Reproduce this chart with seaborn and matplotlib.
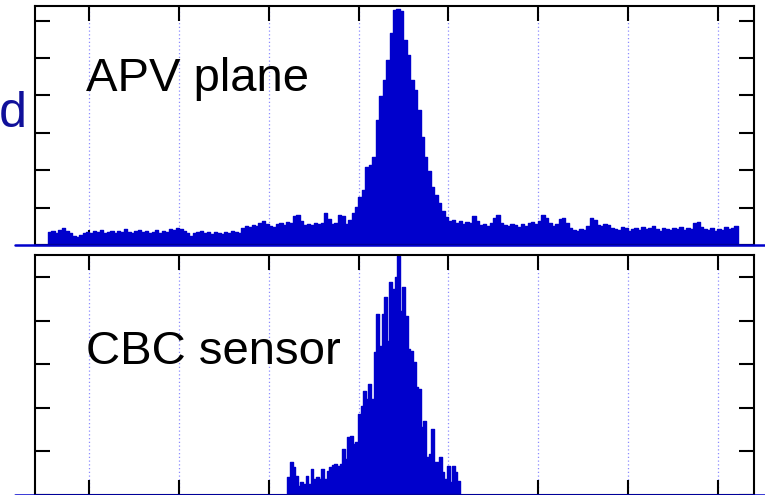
#%% modules
import numpy as np
import pandas as pd
import matplotlib
matplotlib.use("Agg")
import matplotlib.pyplot as plt
import seaborn as sns

#%% data (bin heights, arbitrary count units)
x_ticks = [0, 1, 2, 3, 4, 5, 6, 7]
x_range = (-0.601, 7.401)

apv_range = (-0.456, 7.222)
apv_counts = [
    13, 14, 12, 15, 17, 14, 12, 9, 8, 10,
    12, 13, 12, 14, 13, 15, 12, 13, 14, 12,
    14, 13, 16, 13, 12, 14, 15, 13, 14, 12,
    13, 15, 12, 14, 13, 16, 15, 17, 16, 14,
    12, 9, 12, 13, 14, 12, 13, 11, 13, 12,
    11, 13, 12, 14, 13, 12, 17, 19, 18, 20,
    19, 22, 24, 21, 19, 18, 21, 22, 20, 23,
    22, 29, 30, 24, 20, 21, 20, 22, 21, 22,
    32, 26, 21, 22, 30, 29, 21, 25, 32, 38,
    48, 55, 78, 80, 88, 125, 149, 165, 185, 212,
    235, 236, 234, 205, 190, 165, 155, 135, 108, 88,
    74, 58, 50, 42, 34, 28, 24, 25, 22, 24,
    21, 23, 22, 29, 24, 20, 21, 19, 22, 27,
    30, 22, 20, 19, 21, 20, 18, 21, 19, 22,
    23, 21, 24, 30, 27, 22, 19, 21, 26, 27,
    22, 17, 15, 14, 16, 15, 19, 27, 25, 20,
    19, 21, 20, 17, 16, 15, 18, 17, 14, 16,
    17, 15, 18, 16, 17, 19, 16, 14, 17, 16,
    15, 17, 16, 18, 15, 17, 16, 22, 23, 18,
    16, 15, 17, 14, 16, 15, 18, 16, 17, 19,
]
apv_ymax = 239
apv_ytick_step = 37.4

cbc_range = (2.207, 4.129)
cbc_counts = [
    18, 33, 28, 19, 9, 13, 11, 19, 11, 26,
    16, 18, 16, 26, 16, 24, 28, 30, 31, 29,
    31, 46, 36, 58, 59, 51, 53, 81, 89, 104,
    96, 111, 96, 143, 181, 149, 181, 198, 154, 213,
    206, 218, 239, 184, 208, 179, 146, 144, 133, 108,
    106, 68, 74, 38, 41, 66, 33, 33, 38, 23,
    16, 29, 13, 29, 23, 14,
]
cbc_ymax = 239.5
cbc_ytick_step = 43.5

labels = ["APV plane", "CBC sensor"]

#%% style
sns.set_style("white")
plt.rcParams["font.family"] = ["Liberation Sans", "DejaVu Sans"]

hist_color = "#0000cc"
grid_color = "#8c8cff"
label_color = "#10109a"

fig = plt.figure(figsize=(7.65, 4.95), dpi=100)
ax_top = fig.add_axes([0.04575, 0.5051, 0.9399, 0.4828])
ax_bot = fig.add_axes([0.04575, 0.001, 0.9399, 0.4838])

panels = [
    (ax_top, apv_range, apv_counts, apv_ymax, apv_ytick_step, 0.644),
    (ax_bot, cbc_range, cbc_counts, cbc_ymax, cbc_ytick_step, 0.545),
]

#%% draw both panels
for (ax, rng, counts, ymax, ystep, text_y), label in zip(panels, labels):
    edges = np.linspace(rng[0], rng[1], len(counts) + 1)
    df = pd.DataFrame({"x": (edges[:-1] + edges[1:]) / 2, "w": counts})
    sns.histplot(data=df, x="x", weights="w", bins=edges.tolist(),
                 element="step", fill=True, color=hist_color, alpha=1,
                 linewidth=1, ax=ax)
    ax.set_xlim(*x_range)
    ax.set_ylim(0, ymax)
    ax.set_xlabel("")
    ax.set_ylabel("")
    ax.set_xticks(x_ticks)
    ax.set_yticks(np.arange(0, ymax, ystep))
    ax.set_axisbelow(True)
    ax.grid(axis="x", color=grid_color, linestyle=(0, (1, 2)), linewidth=0.9)
    ax.grid(axis="y", visible=False)
    ax.tick_params(direction="in", length=11, width=1.5, color="black",
                   top=True, bottom=True, left=True, right=True,
                   labelbottom=False, labelleft=False)
    for sp in ax.spines.values():
        sp.set_color("black")
        sp.set_linewidth(1.5)
    # baseline of the histogram runs past the frame
    ax.axhline(0, xmin=-0.028, xmax=1.02, color=hist_color, linewidth=1.8,
               clip_on=False, zorder=4)
    ax.text(0.071, text_y, label, transform=ax.transAxes, fontsize=34,
            color="black", ha="left", va="baseline")

fig.text(28 / 765, 1 - 127 / 495, "Normalized", fontsize=36, color=label_color,
         ha="right", va="baseline")

fig.savefig("out.png", dpi=100)
